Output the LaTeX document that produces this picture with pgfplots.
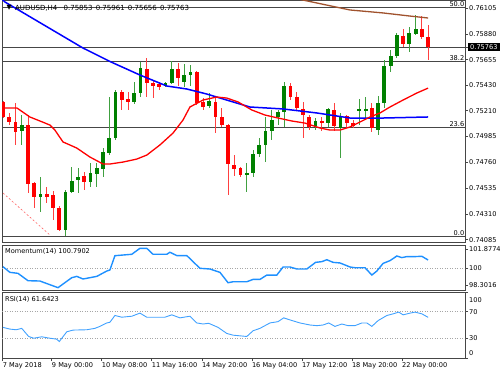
\documentclass[border=0pt]{standalone}
\usepackage{fontspec}
\setmainfont{DejaVu Sans}
\usepackage{pgfplots}
\pgfplotsset{compat=1.18}
\usepackage{pgfplotstable}
\definecolor{cgreen}{RGB}{0,128,0}
\definecolor{cred}{RGB}{255,0,0}
\definecolor{mablue}{RGB}{0,0,255}
\definecolor{mabrown}{RGB}{160,82,45}
\definecolor{dodger}{RGB}{30,144,255}
\definecolor{frm}{RGB}{70,70,70}
\newcommand{\sm}{\fontsize{6.6bp}{7.5bp}\selectfont}

\pgfplotstableread{
i o h l c
3 0.75033 0.75172 0.74911 0.75085
6 0.74457 0.74632 0.74326 0.74483
10 0.74169 0.74518 0.74120 0.74501
11 0.74501 0.74719 0.74492 0.74597
12 0.74605 0.74710 0.74492 0.74632
14 0.74588 0.74754 0.74544 0.74666
15 0.74658 0.74754 0.74544 0.74710
16 0.74701 0.74884 0.74632 0.74850
17 0.74841 0.75329 0.74823 0.74972
18 0.74972 0.75390 0.74954 0.75373
21 0.75286 0.75460 0.75268 0.75364
22 0.75364 0.75634 0.75329 0.75582
26 0.75425 0.75460 0.75416 0.75451
27 0.75451 0.75643 0.75443 0.75573
29 0.75460 0.75617 0.75416 0.75521
30 0.75521 0.75608 0.75425 0.75547
33 0.75251 0.75364 0.75233 0.75294
39 0.74658 0.74754 0.74501 0.74666
40 0.74666 0.74867 0.74632 0.74832
41 0.74832 0.74972 0.74806 0.74911
42 0.74911 0.75155 0.74762 0.75033
43 0.75033 0.75216 0.74954 0.75129
44 0.75155 0.75216 0.75085 0.75198
45 0.75198 0.75460 0.75068 0.75425
50 0.75076 0.75146 0.75041 0.75120
52 0.75102 0.75233 0.75068 0.75225
54 0.75059 0.75190 0.74797 0.75155
57 0.75216 0.75312 0.75085 0.75225
58 0.75216 0.75329 0.75146 0.75225
60 0.75041 0.75338 0.74998 0.75277
61 0.75277 0.75652 0.75233 0.75600
62 0.75600 0.75739 0.75547 0.75687
63 0.75687 0.75887 0.75669 0.75870
65 0.75791 0.75940 0.75722 0.75887
66 0.75879 0.76044 0.75870 0.75922
}\bull

\pgfplotstableread{
i o h l c
0 0.75286 0.75294 0.75146 0.75155
1 0.75155 0.75190 0.75085 0.75111
2 0.75111 0.75277 0.74911 0.75024
4 0.75085 0.75172 0.74492 0.74571
5 0.74579 0.74588 0.74361 0.74457
7 0.74483 0.74544 0.74405 0.74457
8 0.74475 0.74510 0.74257 0.74361
9 0.74361 0.74379 0.74160 0.74169
13 0.74640 0.74675 0.74518 0.74588
19 0.75373 0.75390 0.75216 0.75303
20 0.75312 0.75373 0.75216 0.75286
23 0.75573 0.75669 0.75329 0.75451
24 0.75451 0.75477 0.75320 0.75425
25 0.75443 0.75460 0.75390 0.75416
28 0.75573 0.75626 0.75425 0.75495
31 0.75547 0.75556 0.75259 0.75277
32 0.75286 0.75320 0.75216 0.75242
34 0.75286 0.75320 0.75015 0.75155
35 0.75155 0.75233 0.75068 0.75085
36 0.75085 0.75090 0.74475 0.74745
37 0.74736 0.74823 0.74640 0.74701
38 0.74710 0.74719 0.74632 0.74649
46 0.75425 0.75451 0.75303 0.75329
47 0.75329 0.75373 0.75216 0.75233
48 0.75225 0.75286 0.74972 0.75172
49 0.75155 0.75172 0.75041 0.75068
51 0.75120 0.75155 0.75033 0.75102
53 0.75216 0.75277 0.75033 0.75076
55 0.75164 0.75172 0.75059 0.75102
56 0.75102 0.75129 0.75059 0.75076
59 0.75233 0.75277 0.75024 0.75059
64 0.75861 0.75922 0.75765 0.75791
67 0.75922 0.76035 0.75835 0.75852
68 0.75853 0.75961 0.75656 0.75763
}\bear

\pgfplotstableread{
i v
0 100.13
1.1 99.57
2.4 99.47
4.0 98.74
5.9 98.71
8.8 98.05
11.0 99.04
11.8 99.17
12.8 98.91
15.0 99.17
16.6 99.70
17.1 99.80
17.9 101.22
20.6 101.36
21.9 101.95
23.0 101.95
24.0 101.36
26.2 101.36
26.7 101.56
27.8 101.23
29.4 101.23
31.5 99.97
33.1 99.90
34.7 99.57
36.0 98.54
36.8 98.64
39.0 98.64
40.0 98.87
41.1 98.87
42.2 99.30
43.8 99.30
44.8 100.10
45.9 100.10
47.0 99.90
48.6 99.90
50.0 100.56
51.0 100.63
51.8 100.82
52.8 100.56
53.9 100.50
55.5 100.10
56.3 100.03
57.9 100.03
59.0 99.30
59.8 99.70
60.8 100.46
61.9 100.73
63.0 101.19
63.8 101.03
64.6 101.13
65.9 101.13
67.0 101.16
68.0 100.79
}\mom

\pgfplotstableread{
i v
0 46.4
1.1 43.8
2.1 42.8
3.0 44.9
4.1 32.6
4.9 30.0
6.2 32.1
7.5 30.0
8.6 28.5
9.0 24.9
10.2 39.7
11.2 42.3
13.4 42.8
14.7 44.9
15.5 47.9
16.6 53.1
17.1 54.1
17.9 64.4
19.0 61.8
20.6 63.3
21.9 68.0
23.0 61.8
25.9 61.8
27.0 65.4
28.3 60.8
29.9 63.3
31.0 53.1
32.0 51.5
32.9 52.6
34.4 46.4
35.8 37.2
36.8 34.6
39.0 32.6
40.0 41.3
41.1 44.9
42.7 53.1
44.0 55.1
44.9 60.8
45.9 57.7
47.5 53.1
49.1 50.0
50.2 49.0
51.2 50.0
52.1 53.1
53.1 47.9
54.2 51.5
55.2 49.0
56.3 49.0
57.4 53.1
58.2 53.1
59.0 47.9
60.0 56.7
61.4 64.4
62.4 66.9
63.3 69.5
64.0 65.4
65.1 68.0
65.9 69.5
67.0 66.9
68.0 61.6
}\rsi

\pgfplotsset{mt/.style={
  scale only axis, width=463bp, xmin=-0.16, xmax=73.9,
  axis line style={frm, line width=0.9bp},
  tick align=outside, major tick length=3bp,
  tick style={frm, line width=0.6bp},
  ytick pos=right, yticklabel pos=right, xtick pos=bottom,
  scaled y ticks=false,
  tick label style={font=\sm, text=black},
  yticklabel style={anchor=west, inner sep=1bp},
  clip=true},
  candle/.style={forget plot, draw=none, mark=none, error bars/.cd, y dir=both, y explicit, error mark=none}}

\begin{document}
\begin{tikzpicture}
% ---------- main price panel ----------
\begin{axis}[mt, at={(2bp,133bp)}, anchor=south west, height=242bp,
  ymin=0.74065, ymax=0.76175, xtick=\empty,
  ytick={0.74085,0.74310,0.74535,0.74760,0.74985,0.75210,0.75430,0.75655,0.75880,0.76105},
  yticklabels={0.74085,0.74310,0.74535,0.74760,0.74985,0.75210,0.75430,0.75655,0.75880,0.76105},
  extra y ticks={0.75763}, extra y tick labels={0.75763},
  extra y tick style={yticklabel style={fill=black, text=white, inner xsep=2bp, inner ysep=1.5bp}}]
% horizontal levels
\addplot[frm, line width=0.8bp, forget plot] coordinates {(-0.16,0.74117) (73.9,0.74117)};
\addplot[frm, line width=0.8bp, forget plot] coordinates {(-0.16,0.75060) (73.9,0.75060)};
\addplot[frm, line width=0.8bp, forget plot] coordinates {(-0.16,0.75643) (73.9,0.75643)};
\addplot[frm, line width=0.8bp, forget plot] coordinates {(-0.16,0.76114) (73.9,0.76114)};
\addplot[frm, line width=0.8bp, forget plot] coordinates {(-0.16,0.75763) (73.9,0.75763)};
% fib base line
\addplot[cred!60, line width=0.6bp, dash pattern=on 2bp off 2bp, forget plot] coordinates {(0,0.74492) (7.5,0.74126)};
% wicks
\addplot[candle, error bar style={line width=0.9bp, draw=cgreen!75}]
  table[x=i, y expr={(\thisrow{h}+\thisrow{l})/2}, y error expr={(\thisrow{h}-\thisrow{l})/2}] {\bull};
\addplot[candle, error bar style={line width=0.9bp, draw=cred!75}]
  table[x=i, y expr={(\thisrow{h}+\thisrow{l})/2}, y error expr={(\thisrow{h}-\thisrow{l})/2}] {\bear};
% bodies
\addplot[candle, error bar style={line width=3.8bp, draw=cgreen}]
  table[x=i, y expr={(\thisrow{o}+\thisrow{c})/2}, y error expr={max(abs(\thisrow{c}-\thisrow{o})/2,0.00004)}] {\bull};
\addplot[candle, error bar style={line width=3.8bp, draw=cred}]
  table[x=i, y expr={(\thisrow{o}+\thisrow{c})/2}, y error expr={max(abs(\thisrow{c}-\thisrow{o})/2,0.00004)}] {\bear};
% moving averages
\addplot[mabrown, line width=1.3bp] coordinates {(47.5,0.76180) (55.5,0.76088) (60.8,0.76062) (65.1,0.76035) (68,0.76018)};
\addplot[mablue, line width=1.5bp] coordinates {(-0.2,0.76185) (0.3,0.76158) (12.8,0.75756) (17.3,0.75634) (21.9,0.75521) (26.2,0.75425) (29.4,0.75399) (32.6,0.75355) (36.8,0.75286) (39.5,0.75242) (44.8,0.75225) (50.2,0.75190) (55.5,0.75146) (60.8,0.75146) (68,0.75155)};
\addplot[cred, line width=1.3bp] coordinates {(-0.16,0.75233) (2.24,0.75233) (4.3,0.75155) (5.9,0.75120) (7.5,0.75085) (8.3,0.75041) (9.6,0.74937) (10.7,0.74911) (11.8,0.74884) (13.9,0.74806) (16,0.74745) (17.1,0.74745) (19.2,0.74762) (21.4,0.74788) (23,0.74823) (25.1,0.74911) (27.2,0.75015) (28.8,0.75129) (29.9,0.75242) (32,0.75303) (34.2,0.75329) (35.8,0.75320) (37.6,0.75286) (39.8,0.75216) (41.9,0.75172) (44,0.75146) (46.2,0.75120) (48.3,0.75102) (50.7,0.75059) (52.3,0.75041) (53.9,0.75041) (55.5,0.75068) (57.1,0.75111) (58.7,0.75155) (60.3,0.75190) (61.9,0.75242) (64,0.75303) (66.2,0.75364) (68,0.75407)};
% fib labels
\node[anchor=south east, inner sep=0.6bp, font=\sm] at (axis cs:73.9,0.76114) {50.0};
\node[anchor=south east, inner sep=0.6bp, font=\sm] at (axis cs:73.9,0.75643) {38.2};
\node[anchor=south east, inner sep=0.6bp, font=\sm] at (axis cs:73.9,0.75060) {23.6};
\node[anchor=south east, inner sep=0.6bp, font=\sm] at (axis cs:73.9,0.74117) {0.0};
\end{axis}

% ---------- momentum panel ----------
\begin{axis}[mt, at={(2bp,85bp)}, anchor=south west, height=45bp,
  ymin=97.82, ymax=102.28, xtick=\empty,
  ytick={98.3016,100,101.8774}, yticklabels={98.3016,100,101.8774}]
\addplot[gray!70, line width=0.6bp, dash pattern=on 1bp off 1.5bp, forget plot] coordinates {(-0.16,100) (73.9,100)};
\addplot[dodger, line width=1.4bp] table[x=i, y=v] {\mom};
\end{axis}

% ---------- RSI panel ----------
\begin{axis}[mt, at={(2bp,17bp)}, anchor=south west, height=66bp,
  ymin=0, ymax=100,
  ytick={0,30,70,100}, yticklabels={,30,70,},
  xtick={-0.05,7.8,15.8,23.8,31.8,39.8,47.8,55.8,63.8},
  xticklabels={7 May 2018,9 May 00:00,10 May 08:00,11 May 16:00,14 May 20:00,16 May 04:00,17 May 12:00,18 May 20:00,22 May 00:00},
  xticklabel style={anchor=north west, inner sep=1bp, xshift=-1bp}]
\addplot[gray!70, line width=0.6bp, dash pattern=on 1bp off 1.5bp, forget plot] coordinates {(-0.16,70) (73.9,70)};
\addplot[gray!70, line width=0.6bp, dash pattern=on 1bp off 1.5bp, forget plot] coordinates {(-0.16,30) (73.9,30)};
\addplot[dodger!85, line width=0.9bp] table[x=i, y=v] {\rsi};
\end{axis}

% ---------- texts ----------
\node[anchor=west, inner sep=0, font=\sm] at (6.5bp,367bp) {▼};
\node[anchor=west, inner sep=0, font=\fontsize{7bp}{8bp}\selectfont] at (15bp,367bp) {AUDUSD,H4\hspace{4bp} 0.75853\hspace{1bp} 0.75961\hspace{1bp} 0.75656\hspace{1bp} 0.75763};
\node[anchor=west, inner sep=0, font=\sm] at (5bp,124bp) {Momentum(14) 100.7902};
\node[anchor=west, inner sep=0, font=\sm] at (5bp,76bp) {RSI(14) 61.6423};
\node[anchor=west, inner sep=1bp, font=\sm] at (468bp,75bp) {100};
\node[anchor=west, inner sep=1bp, font=\sm] at (468bp,22bp) {0};

\pgfresetboundingbox
\path[use as bounding box] (0,0) rectangle (500bp,375bp);
\end{tikzpicture}
\end{document}
